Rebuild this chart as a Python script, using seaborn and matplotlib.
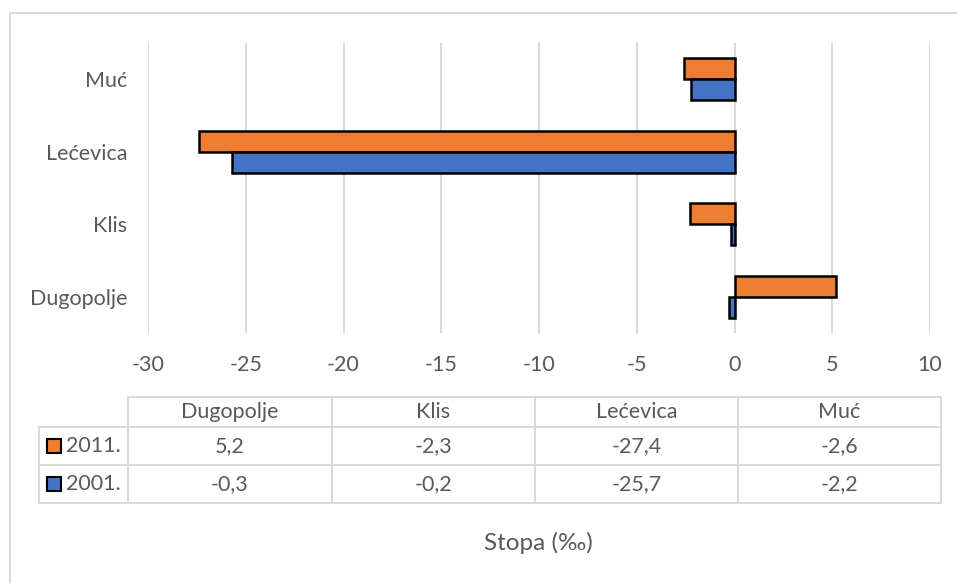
import matplotlib
matplotlib.use("Agg")
import matplotlib.pyplot as plt
import pandas as pd
import seaborn as sns
from matplotlib.patches import Rectangle

# Podaci ocitani s grafikona
OPCINE = ['Dugopolje', 'Klis', 'Lećevica', 'Muć']
GODINE = ['2011.', '2001.']
STOPA_2011 = [5.2, -2.3, -27.4, -2.6]
STOPA_2001 = [-0.3, -0.2, -25.7, -2.2]
BOJE = {'2011.': '#ED7D31', '2001.': '#4472C4'}
X_TICKS = [-30, -25, -20, -15, -10, -5, 0, 5, 10]
NASLOV_X = 'Stopa (‰)'

SIVA_TEKST = '#595959'
SIVA_LINIJA = '#D9D9D9'
FONT = ['Lato', 'DejaVu Sans']
FS = 15.5

df = pd.DataFrame({
    'opcina': OPCINE * 2,
    'godina': ['2011.'] * 4 + ['2001.'] * 4,
    'stopa': STOPA_2011 + STOPA_2001,
})

sns.set_theme(style='white')
plt.rcParams['font.family'] = FONT

W, H = 957, 583
fig = plt.figure(figsize=(W / 100, H / 100), dpi=100)
ax = fig.add_axes([148 / W, 1 - 333 / H, (930 - 148) / W, (333 - 43) / H])

sns.barplot(data=df, x='stopa', y='opcina', hue='godina',
            order=OPCINE[::-1], hue_order=GODINE, palette=BOJE, saturation=1,
            edgecolor='black', linewidth=1.8, width=0.575,
            orient='h', legend=False, ax=ax, zorder=3)

ax.set_xlim(-30, 10)
ax.set_ylim(3.5, -0.5)
ax.set_xticks(X_TICKS)
ax.set_xticklabels([str(t) for t in X_TICKS])
ax.grid(axis='x', color=SIVA_LINIJA, linewidth=1.4, zorder=0)
ax.grid(axis='y', visible=False)
for s in ax.spines.values():
    s.set_visible(False)
ax.set_xlabel('')
ax.set_ylabel('')
ax.tick_params(axis='x', length=0, pad=16, labelsize=FS, labelcolor=SIVA_TEKST)
ax.tick_params(axis='y', length=0, pad=15, labelsize=FS, labelcolor=SIVA_TEKST)

# Tablica podataka ispod grafikona (koordinate u pikselima)
tab = fig.add_axes([0, 0, 1, 1])
tab.set_xlim(0, W)
tab.set_ylim(H, 0)
tab.axis('off')
tab.patch.set_visible(False)

# okvir grafikona
tab.plot([10, W], [13, 13], color=SIVA_LINIJA, lw=1.4)
tab.plot([10, 10], [13, H], color=SIVA_LINIJA, lw=1.4)

stupci = [128, 332, 535, 738, 941]
redovi = [397, 427, 465, 503]
lijevo = 39

tab.plot([stupci[0], stupci[-1]], [redovi[0]] * 2, color=SIVA_LINIJA, lw=1.4)
for y in redovi[1:]:
    tab.plot([lijevo, stupci[-1]], [y, y], color=SIVA_LINIJA, lw=1.4)
for x in stupci:
    tab.plot([x, x], [redovi[0], redovi[-1]], color=SIVA_LINIJA, lw=1.4)
tab.plot([lijevo, lijevo], [redovi[1], redovi[-1]], color=SIVA_LINIJA, lw=1.4)

for i, naziv in enumerate(OPCINE):
    xc = (stupci[i] + stupci[i + 1]) / 2
    tab.text(xc, (redovi[0] + redovi[1]) / 2, naziv, ha='center', va='center',
             fontsize=FS, color=SIVA_TEKST)

for r, (god, vrijednosti) in enumerate(zip(GODINE, [STOPA_2011, STOPA_2001])):
    yc = (redovi[r + 1] + redovi[r + 2]) / 2
    tab.add_patch(Rectangle((47, yc - 7), 14, 14, facecolor=BOJE[god],
                            edgecolor='black', lw=1.5))
    tab.text(66, yc, god, ha='left', va='center', fontsize=FS, color=SIVA_TEKST)
    for i, v in enumerate(vrijednosti):
        xc = (stupci[i] + stupci[i + 1]) / 2
        tab.text(xc, yc, f'{v:.1f}'.replace('.', ','), ha='center', va='center',
                 fontsize=FS, color=SIVA_TEKST)

tab.text(538, 543, NASLOV_X, ha='center', va='center', fontsize=17.5, color=SIVA_TEKST)

fig.savefig('out.png', dpi=100)
